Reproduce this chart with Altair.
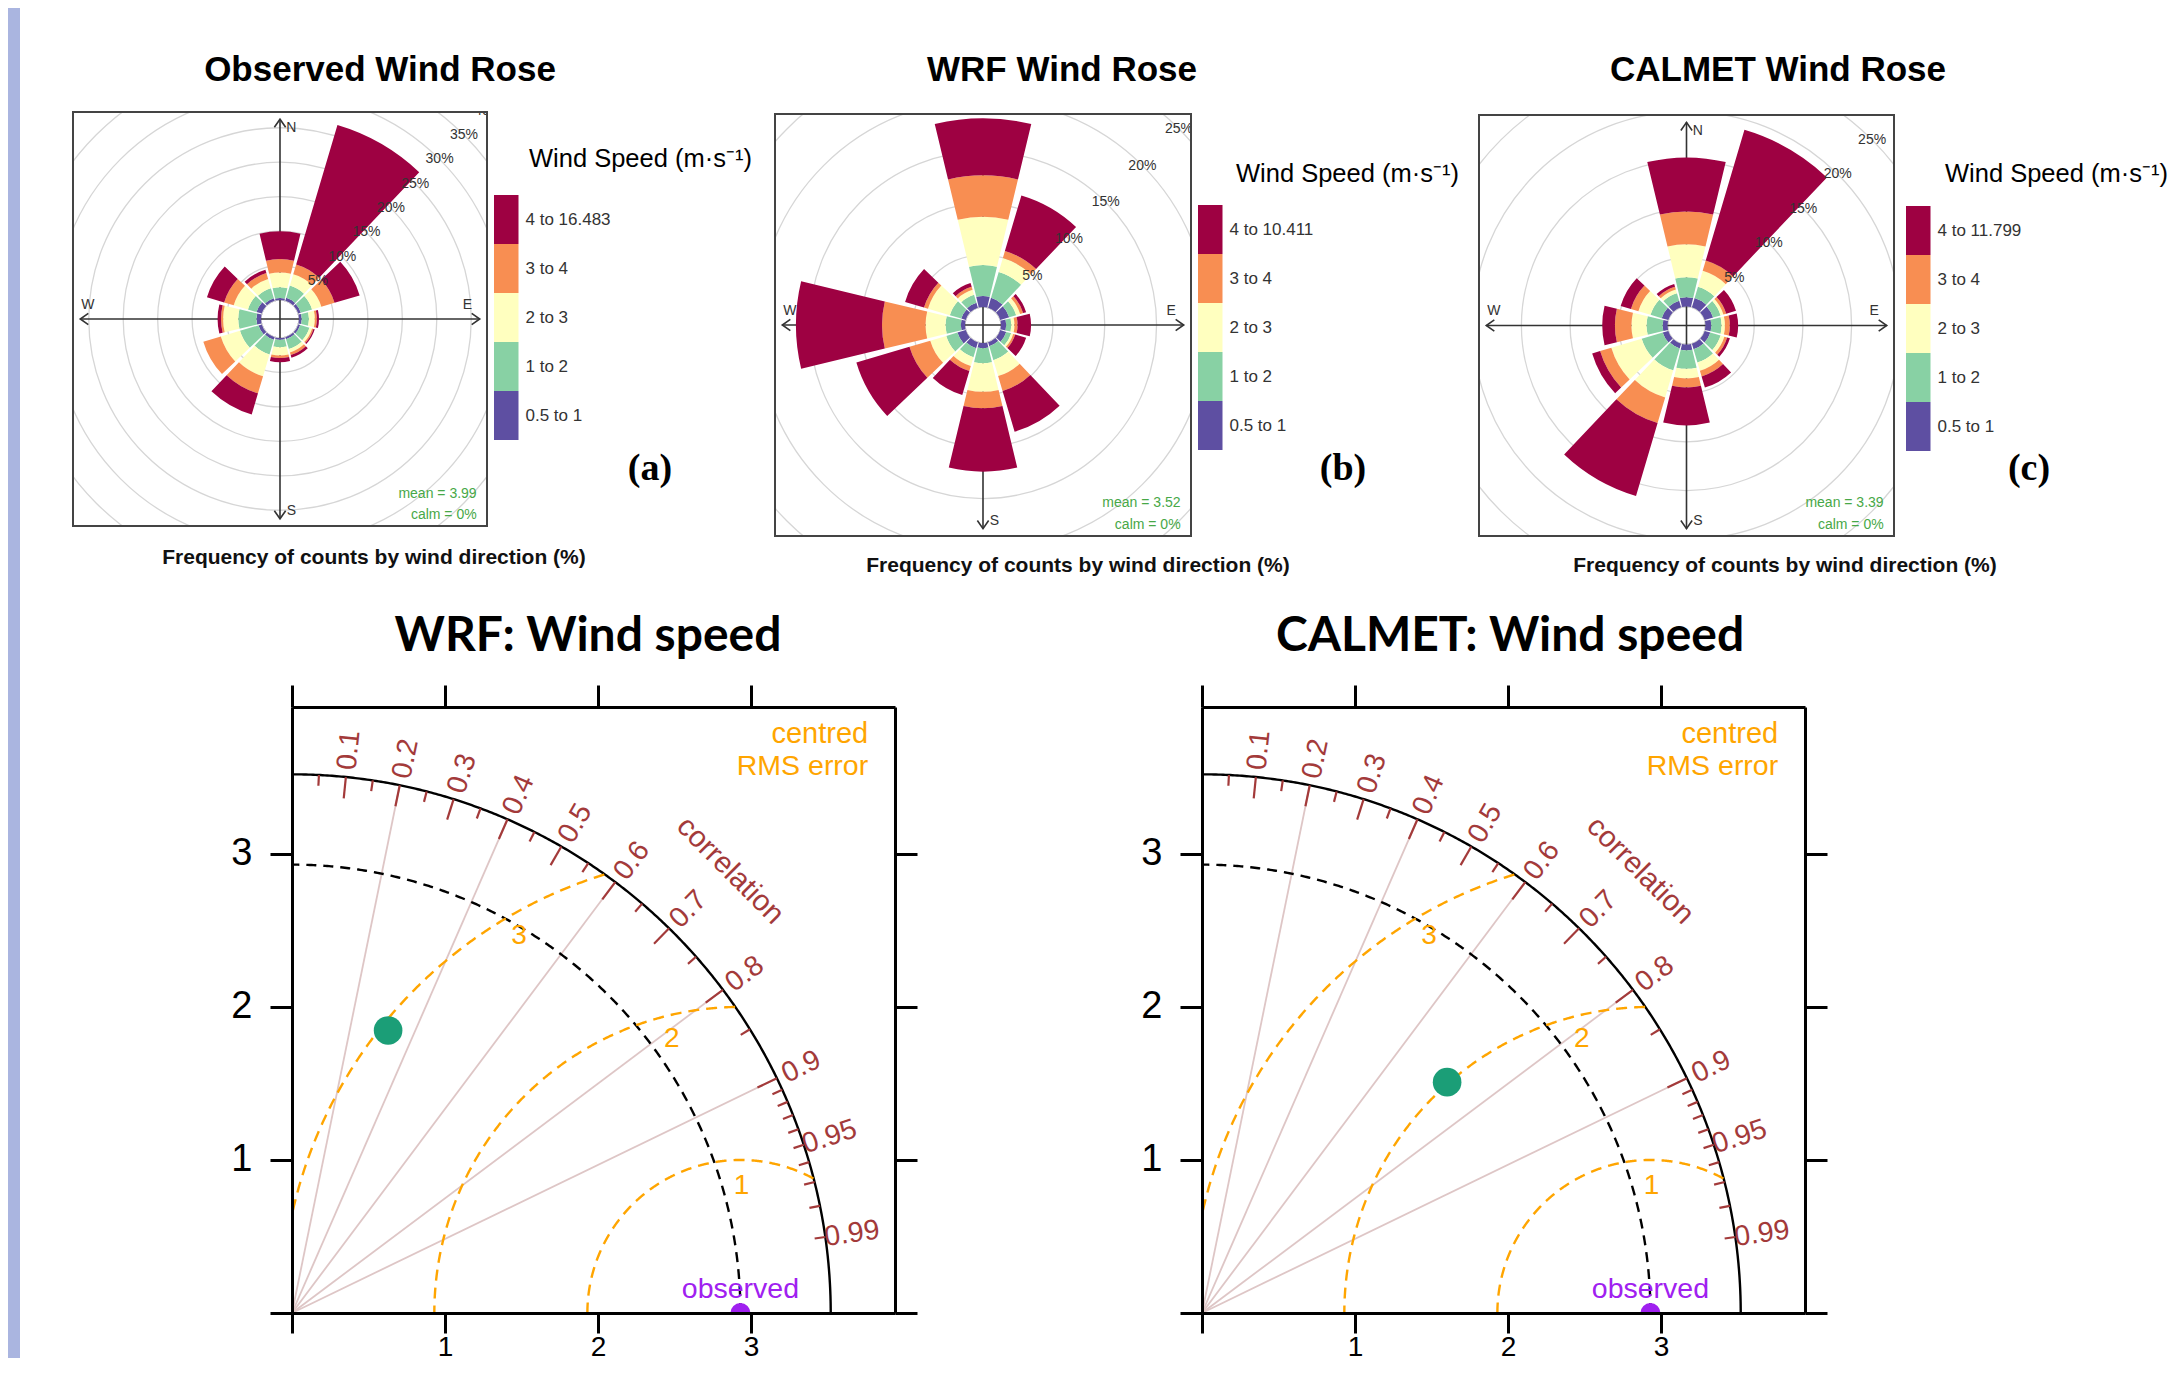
import math
import altair as alt
import pandas as pd

# ============================ DATA ============================
DIRECTIONS = [0, 30, 60, 90, 120, 150, 180, 210, 240, 270, 300, 330]
SPEED_BINS = ["0.5 to 1", "1 to 2", "2 to 3", "3 to 4"]
SPEED_COLORS = ["#5E4FA2", "#88D1A4", "#FFFFBF", "#F88E52", "#9E0142"]
OBS_TOP_BIN = "4 to 16.483"
WRF_TOP_BIN = "4 to 10.411"
CALMET_TOP_BIN = "4 to 11.799"

# frequency (%) per direction sector (rows) and speed bin (cols: 0.5-1, 1-2, 2-3, 3-4, >4)
OBS_FREQ = [
    [0.30, 1.54, 2.16, 1.95, 4.02],
    [0.45, 1.85, 1.70, 1.50, 21.10],
    [0.40, 1.70, 1.40, 2.00, 3.80],
    [0.40, 1.05, 0.85, 0.30, 0.30],
    [0.30, 1.40, 0.40, 0.20, 0.20],
    [0.30, 1.50, 0.50, 0.40, 0.40],
    [0.25, 1.10, 1.20, 0.35, 0.60],
    [0.40, 2.20, 3.30, 2.60, 3.20],
    [0.50, 2.80, 2.90, 2.65, 0.00],
    [0.65, 2.65, 2.20, 0.30, 0.50],
    [0.80, 1.30, 2.15, 1.45, 2.60],
    [0.40, 1.50, 1.40, 0.90, 0.50],
]
WRF_FREQ = [
    [1.06, 2.99, 4.65, 4.00, 5.50],
    [1.00, 2.60, 1.40, 0.70, 5.60],
    [0.90, 0.70, 0.40, 0.30, 0.30],
    [0.50, 0.50, 0.30, 0.30, 1.30],
    [0.60, 0.50, 0.20, 0.20, 1.10],
    [0.40, 1.40, 1.60, 1.50, 4.10],
    [0.50, 1.46, 2.74, 1.60, 6.10],
    [0.60, 0.90, 0.90, 0.50, 2.40],
    [0.84, 1.12, 1.61, 2.09, 5.34],
    [0.40, 1.47, 1.93, 4.20, 8.30],
    [0.45, 1.15, 2.20, 0.40, 1.90],
    [0.50, 0.80, 0.50, 0.30, 0.40],
]
CALMET_FREQ = [
    [0.96, 2.04, 3.40, 3.36, 5.54],
    [1.00, 1.20, 1.70, 1.10, 14.00],
    [0.90, 0.80, 0.30, 0.30, 1.05],
    [0.60, 1.05, 0.35, 0.50, 0.85],
    [0.60, 1.10, 0.40, 0.30, 0.30],
    [0.60, 1.40, 0.90, 0.60, 1.20],
    [0.60, 1.90, 1.00, 0.90, 3.90],
    [0.50, 2.35, 2.90, 2.75, 7.80],
    [0.60, 2.25, 3.25, 1.20, 0.85],
    [0.50, 1.65, 1.55, 1.70, 1.30],
    [0.70, 1.20, 1.30, 0.80, 1.10],
    [0.70, 0.80, 0.40, 0.30, 0.30],
]
OBS_MEAN, WRF_MEAN, CALMET_MEAN = "3.99", "3.52", "3.39"
CALM_PCT = "0%"
OBS_RINGS = [5, 10, 15, 20, 25, 30, 35, 40]
MODEL_RINGS = [5, 10, 15, 20, 25]

# Taylor diagram
OBS_SD = 2.93
MAX_SD = 3.52
MODEL_NAMES = ["WRF", "CALMET"]
MODEL_SD = [1.95, 2.20]
MODEL_CORR = [0.322, 0.728]
CORR_LINES = [0.2, 0.4, 0.6, 0.8, 0.9]
CORR_MAJOR = [0.1, 0.2, 0.3, 0.4, 0.5, 0.6, 0.7, 0.8, 0.9]
CORR_MINOR = [0.05, 0.15, 0.25, 0.35, 0.45, 0.55, 0.65, 0.75, 0.85, 0.95]
CORR_FINE = [0.91, 0.92, 0.93, 0.94, 0.96, 0.97, 0.98, 0.99]
CORR_LABELS = ["0.1", "0.2", "0.3", "0.4", "0.5", "0.6", "0.7", "0.8", "0.9", "0.95", "0.99"]
RMS_LEVELS = [1, 2, 3]
SD_TICKS = [0, 1, 2, 3]

# ============================ STYLE / LAYOUT ============================
FONT = "Liberation Sans"
STRIP_COL = "#AAB5E0"
RING_COL = "#D6D6D6"
AX_COL = "#333333"
FRAME_COL = "#444444"
MEAN_COL = "#47A847"
BROWN = "#A33A3A"
ORANGE = "#FFA500"
PURPLE = "#A020F0"
MODEL_COL = "#1B9E77"
GRID_COL = "#DEC6C6"
HALF_SECTOR = 13.5
BAR_H = 49  # legend block height (px)

ROW1_TOP, ROW1_BOTTOM = 8, 600  # page px
ROSE_LAYOUT = {
    "a": dict(view_x=(20, 487), box=(73, 487, 112, 526), bar=(494, 195), title=(380, 70),
              freq=(374, 558), legtitle=(529, 159), letter=(650, 469), r_off=19, r_per=6.89),
    "b": dict(view_x=(775, 1191), box=(775, 1191, 114, 536), bar=(1198, 205), title=(1062, 70),
              freq=(1078, 566), legtitle=(1236, 174), letter=(1343, 469), r_off=18, r_per=10.37),
    "c": dict(view_x=(1479, 1894), box=(1479, 1894, 115, 536), bar=(1906, 206), title=(1778, 70),
              freq=(1785, 566), legtitle=(1945, 174), letter=(2029, 469), r_off=19, r_per=9.74),
}
AXIS_REACH = 0.965

T_W, T_H = 603, 606
T_XMAX, T_YMAX = 3.94, 3.96
T_LEFT = [292, 1202]          # page px of plot left edges
T_TITLE_X = [588, 1510]       # page px of title centres
T_TITLE_Y = 4.419             # data units
T_TITLE_SIZE = 48
T_PX = T_W / T_XMAX


def rose_panel(freq, top_bin, rings, mean_val, title, letter, L):
    vx0, vx1 = L["view_x"]
    BL, BR, BT, BB = L["box"]
    cx, cy = (BL + BR) / 2, (BT + BB) / 2
    hx, hy = (BR - BL) / 2, (BB - BT) / 2

    def u(px, py):
        return (px - cx) / hx, (cy - py) / hy

    xd = [(vx0 - cx) / hx, (vx1 - cx) / hx]
    yd = [(cy - ROW1_BOTTOM) / hy, (cy - ROW1_TOP) / hy]
    xs = alt.Scale(domain=xd, nice=False, zero=False)
    ys = alt.Scale(domain=yd, nice=False, zero=False)
    rmax = max(rings)
    rs = alt.Scale(type="linear", domain=[0, rmax],
                   range=[L["r_off"], L["r_off"] + L["r_per"] * rmax], zero=False, nice=False)
    ts = alt.Scale(domain=[0, 360], range=[0, 2 * math.pi])

    def X(f):
        return alt.X(f, type="quantitative", scale=xs, axis=None)

    def Y(f):
        return alt.Y(f, type="quantitative", scale=ys, axis=None)

    ring_df = pd.DataFrame({"ring": rings})
    ring_layer = alt.Chart(ring_df).transform_calculate(
        cx="0", cy="0", t0="0", t1="360"
    ).mark_arc(filled=False, stroke=RING_COL, strokeWidth=1.3, clip=True).encode(
        x=X("cx"), y=Y("cy"), theta=alt.Theta("t0:Q", scale=ts), theta2="t1:Q",
        radius=alt.Radius("ring:Q", scale=rs))

    r = AXIS_REACH
    ax_df = pd.DataFrame({"x1": [-r, 0], "y1": [0, -r], "x2": [r, 0], "y2": [0, r]})
    ax_layer = alt.Chart(ax_df).mark_rule(color=AX_COL, strokeWidth=1.6).encode(
        x=X("x1"), y=Y("y1"), x2="x2:Q", y2="y2:Q")
    arr_df = pd.DataFrame({
        "x": [0, r, 0, -r], "y": [r, 0, -r, 0],
        "shape": ["M-0.7,1L0,0L0.7,1", "M-1,-0.7L0,0L-1,0.7", "M-0.7,-1L0,0L0.7,-1", "M1,-0.7L0,0L1,0.7"]})
    arr_layer = alt.Chart(arr_df).mark_point(filled=False, size=260, strokeWidth=1.6,
                                             color=AX_COL, opacity=1).encode(
        x=X("x"), y=Y("y"), shape=alt.Shape("shape:N", scale=None))
    nsew = pd.DataFrame({"x": [0.055, 0.905, 0.055, -0.928], "y": [0.925, 0.068, -0.928, 0.068],
                         "txt": ["N", "E", "S", "W"]})
    nsew_layer = alt.Chart(nsew).mark_text(font=FONT, fontSize=14, color=AX_COL).encode(
        x=X("x"), y=Y("y"), text="txt:N")

    labels = SPEED_BINS + [top_bin]
    rows = []
    for d, fr in zip(DIRECTIONS, freq):
        for k, (lab, f) in enumerate(zip(labels, fr)):
            rows.append({"dir": d, "bin": k, "label": lab, "freq": f})
    wdf = pd.DataFrame(rows)
    wedges = alt.Chart(wdf).transform_window(
        cum="sum(freq)", groupby=["dir"], sort=[alt.SortField("bin", order="ascending")], frame=[None, 0]
    ).transform_calculate(
        r_in="datum.cum - datum.freq", t_a=f"datum.dir - {HALF_SECTOR}",
        t_b=f"datum.dir + {HALF_SECTOR}", cx="0", cy="0"
    ).transform_filter("datum.freq > 0").mark_arc().encode(
        x=X("cx"), y=Y("cy"),
        theta=alt.Theta("t_a:Q", scale=ts), theta2="t_b:Q",
        radius=alt.Radius("cum:Q", scale=rs), radius2="r_in:Q",
        color=alt.Color("label:N",
                        scale=alt.Scale(domain=labels[::-1], range=SPEED_COLORS[::-1]),
                        legend=alt.Legend(title=None, orient="none",
                                          legendX=L["bar"][0] - vx0 - BAR_H / 2,
                                          legendY=L["bar"][1] - ROW1_TOP,
                                          symbolType="M0,-1H1V1H0Z", symbolSize=BAR_H * BAR_H,
                                          symbolStrokeWidth=0, symbolOpacity=1, labelOffset=7,
                                          labelFont=FONT, labelFontSize=17, labelColor="#333333",
                                          rowPadding=0, padding=0, labelLimit=400)))

    lab_layer = alt.Chart(ring_df).transform_calculate(
        cx="0", cy="0", t="45", txt="datum.ring + '%'"
    ).mark_text(font=FONT, fontSize=14, color="#333333", clip=True).encode(
        x=X("cx"), y=Y("cy"), theta=alt.Theta("t:Q", scale=ts),
        radius=alt.Radius("ring:Q", scale=rs), text="txt:N")

    mc = pd.DataFrame({"x": [0.95, 0.95], "y": [-0.845, -0.948],
                       "txt": [f"mean = {mean_val}", f"calm = {CALM_PCT}"]})
    mc_layer = alt.Chart(mc).mark_text(font=FONT, fontSize=14, color=MEAN_COL, align="right").encode(
        x=X("x"), y=Y("y"), text="txt:N")

    masks = [{"a": xd[0], "b": xd[1], "c": 1, "d": yd[1]},
             {"a": xd[0], "b": xd[1], "c": yd[0], "d": -1}]
    if xd[0] < -1:
        masks.append({"a": xd[0], "b": -1, "c": yd[0], "d": yd[1]})
    mask_layer = alt.Chart(pd.DataFrame(masks)).mark_rect(color="white", opacity=1).encode(
        x=X("a"), x2="b:Q", y=Y("c"), y2="d:Q")

    frame = alt.Chart(pd.DataFrame({"a": [-1], "b": [1], "c": [-1], "d": [1]})).mark_rect(
        filled=False, stroke=FRAME_COL, strokeWidth=2).encode(x=X("a"), x2="b:Q", y=Y("c"), y2="d:Q")

    def txt(pos, s, **mk):
        x, y = u(*pos)
        return alt.Chart(pd.DataFrame({"x": [x], "y": [y], "txt": [s]})).mark_text(**mk).encode(
            x=X("x"), y=Y("y"), text="txt:N")

    t_title = txt(L["title"], title, font=FONT, fontSize=35, fontWeight="bold", color="black")
    t_freq = txt(L["freq"], "Frequency of counts by wind direction (%)", font=FONT, fontSize=21,
                 fontWeight="bold", color="#111111")
    t_leg = txt(L["legtitle"], "Wind Speed (m\u00b7s\u207b\u00b9)", font=FONT, fontSize=25.5,
                align="left", color="black")
    t_letter = txt(L["letter"], letter, font="Liberation Serif", fontSize=38, fontWeight="bold",
                   color="black")

    return alt.layer(ring_layer, ax_layer, arr_layer, nsew_layer, wedges, lab_layer, mc_layer,
                     mask_layer, frame, t_title, t_freq, t_leg, t_letter).properties(
        width=vx1 - vx0, height=ROW1_BOTTOM - ROW1_TOP)


def taylor_panel(idx):
    xs = alt.Scale(domain=[0, T_XMAX], nice=False, zero=False)
    ys = alt.Scale(domain=[0, T_YMAX], nice=False, zero=False)

    def X(f, axis=None):
        return alt.X(f, type="quantitative", scale=xs, axis=axis)

    def Y(f, axis=None):
        return alt.Y(f, type="quantitative", scale=ys, axis=axis)

    common = dict(values=SD_TICKS, grid=False, title=None, domainColor="black", domainWidth=3,
                  tickColor="black", tickWidth=3, zindex=1, labelFont=FONT, labelColor="black",
                  labelFlush=False, labelOverlap=False)
    hide0 = "datum.value == 0 ? '' : datum.label"
    ax_bottom = alt.Axis(orient="bottom", tickSize=20, labelPadding=0, labelFontSize=28,
                         labelExpr=hide0, **common)
    ax_left = alt.Axis(orient="left", tickSize=22, labelPadding=18, labelFontSize=38,
                       labelExpr=hide0, **common)
    ax_top = alt.Axis(orient="top", tickSize=22, labels=False, **common)
    ax_right = alt.Axis(orient="right", tickSize=22, labels=False, **common)

    lines = alt.Chart(pd.DataFrame({"c": CORR_LINES})).transform_calculate(
        x0="0", y0="0", x1=f"{MAX_SD}*datum.c", y1=f"{MAX_SD}*sqrt(1-datum.c*datum.c)"
    ).mark_rule(color=GRID_COL, strokeWidth=1.8).encode(
        x=X("x0", ax_bottom), y=Y("y0", ax_left), x2="x1:Q", y2="y1:Q")

    def sd_arc(radius, dash, axes=False):
        ch = alt.Chart(alt.sequence(0, 90.25, 0.25, as_="t")).transform_calculate(
            x=f"{radius}*cos(datum.t*PI/180)", y=f"{radius}*sin(datum.t*PI/180)")
        mk = dict(color="black", strokeWidth=2.4)
        if dash:
            mk["strokeDash"] = [10, 7]
        return ch.mark_line(**mk).encode(
            x=X("x", ax_top if axes else None), y=Y("y", ax_right if axes else None), order="t:Q")

    outer = sd_arc(MAX_SD, False, axes=True)
    obs_arc = sd_arc(OBS_SD, True)

    rms = []
    for lvl in RMS_LEVELS:
        rms.append(alt.Chart(alt.sequence(0, 180.25, 0.25, as_="t")).transform_calculate(
            x=f"{OBS_SD}+{lvl}*cos(datum.t*PI/180)", y=f"{lvl}*sin(datum.t*PI/180)"
        ).transform_filter(
            f"datum.x >= 0 && datum.x*datum.x + datum.y*datum.y <= {MAX_SD}*{MAX_SD}"
        ).mark_line(color=ORANGE, strokeDash=[11, 7], strokeWidth=2.4).encode(
            x=X("x"), y=Y("y"), order="t:Q"))

    tick_rows = ([{"c": c, "f": 0.96} for c in CORR_MAJOR] +
                 [{"c": c, "f": 0.98} for c in CORR_MINOR + CORR_FINE])
    ticks = alt.Chart(pd.DataFrame(tick_rows)).transform_calculate(
        x1=f"{MAX_SD}*datum.c", y1=f"{MAX_SD}*sqrt(1-datum.c*datum.c)",
        x2=f"datum.f*{MAX_SD}*datum.c", y2=f"datum.f*{MAX_SD}*sqrt(1-datum.c*datum.c)"
    ).mark_rule(color=BROWN, strokeWidth=2.2).encode(x=X("x1"), y=Y("y1"), x2="x2:Q", y2="y2:Q")

    clabs = alt.Chart(pd.DataFrame({"lab": CORR_LABELS})).transform_calculate(
        c="toNumber(datum.lab)",
    ).transform_calculate(
        x=f"1.05*{MAX_SD}*datum.c", y=f"1.05*{MAX_SD}*sqrt(1-datum.c*datum.c)",
        ang="360 - acos(datum.c)*180/PI"
    ).mark_text(font=FONT, fontSize=28.5, color=BROWN, baseline="middle").encode(
        x=X("x"), y=Y("y"), text="lab:N", angle=alt.Angle("ang:Q", scale=None))

    def txt(x, y, s, **mk):
        return alt.Chart(pd.DataFrame({"x": [x], "y": [y], "txt": [s]})).mark_text(**mk).encode(
            x=X("x"), y=Y("y"), text="txt:N")

    t_corr = txt(2.864, 2.892, "correlation", font=FONT, fontSize=29.5, color=BROWN, angle=45)
    t_c1 = txt(3.765, 3.781, "centred", font=FONT, fontSize=29, color=ORANGE, align="right")
    t_c2 = txt(3.765, 3.574, "RMS error", font=FONT, fontSize=28.5, color=ORANGE, align="right")
    t_obs = txt(OBS_SD, 0.155, "observed", font=FONT, fontSize=28.5, color=PURPLE)
    rms_pos = [(2.937, 0.828), (2.482, 1.791), (1.483, 2.464)]
    rms_lab = alt.Chart(pd.DataFrame({"x": [p[0] for p in rms_pos], "y": [p[1] for p in rms_pos],
                                      "txt": [str(v) for v in RMS_LEVELS]})).mark_text(
        font=FONT, fontSize=28, color=ORANGE).encode(x=X("x"), y=Y("y"), text="txt:N")
    t_title = txt((T_TITLE_X[idx] - T_LEFT[idx]) / T_PX, T_TITLE_Y,
                  f"{MODEL_NAMES[idx]}: Wind speed", font="Lato", fontSize=T_TITLE_SIZE,
                  fontWeight="bold", color="black")

    obs_pt = alt.Chart(pd.DataFrame({"sd": [OBS_SD]})).transform_calculate(y0="0").mark_point(
        filled=True, size=400, color=PURPLE, opacity=1, clip=True).encode(x=X("sd"), y=Y("y0"))
    mod_pt = alt.Chart(pd.DataFrame({"sd": [MODEL_SD[idx]], "r": [MODEL_CORR[idx]]})).transform_calculate(
        x="datum.sd*datum.r", y="datum.sd*sqrt(1-datum.r*datum.r)"
    ).mark_point(filled=True, size=820, color=MODEL_COL, opacity=1).encode(x=X("x"), y=Y("y"))

    return alt.layer(lines, outer, obs_arc, *rms, ticks, clabs, t_corr, t_c1, t_c2, rms_lab,
                     obs_pt, t_obs, mod_pt, t_title).resolve_axis(
        x="independent", y="independent").properties(width=T_W, height=T_H)


def blank(w, h, fill=None):
    view = alt.ViewBackground(fill=fill, stroke=None) if fill else alt.ViewBackground(stroke=None)
    return alt.Chart(pd.DataFrame({"v": [0]})).mark_text(opacity=0).encode(
        text=alt.value("")).properties(width=w, height=h, view=view)


IND = dict(x="independent", y="independent", color="independent",
           theta="independent", radius="independent")

rose_a = rose_panel(OBS_FREQ, OBS_TOP_BIN, OBS_RINGS, OBS_MEAN, "Observed Wind Rose", "(a)",
                    ROSE_LAYOUT["a"])
rose_b = rose_panel(WRF_FREQ, WRF_TOP_BIN, MODEL_RINGS, WRF_MEAN, "WRF Wind Rose", "(b)",
                    ROSE_LAYOUT["b"])
rose_c = rose_panel(CALMET_FREQ, CALMET_TOP_BIN, MODEL_RINGS, CALMET_MEAN, "CALMET Wind Rose", "(c)",
                    ROSE_LAYOUT["c"])

# vertical gap so that the top of the Taylor titles sits right under the rose row
row_gap = int(round((636 - T_TITLE_SIZE / 2) - ROW1_BOTTOM))

row1 = alt.hconcat(rose_a, rose_b, rose_c, spacing=288, bounds="flush").resolve_scale(
    **IND).resolve_legend(color="independent")
row2 = alt.hconcat(blank(T_LEFT[0] - 20, 10), taylor_panel(0),
                   blank(T_LEFT[1] - T_LEFT[0] - T_W, 10), taylor_panel(1),
                   spacing=0, bounds="flush").resolve_scale(x="independent", y="independent")
body = alt.vconcat(row1, row2, spacing=row_gap).resolve_scale(**IND)
chart = alt.hconcat(blank(12, 1350, STRIP_COL), body, spacing=0).resolve_scale(**IND).properties(
    padding=0, background="white").configure_view(stroke=None)

chart.save("out.html", embed_options={"renderer": "svg", "actions": False})
